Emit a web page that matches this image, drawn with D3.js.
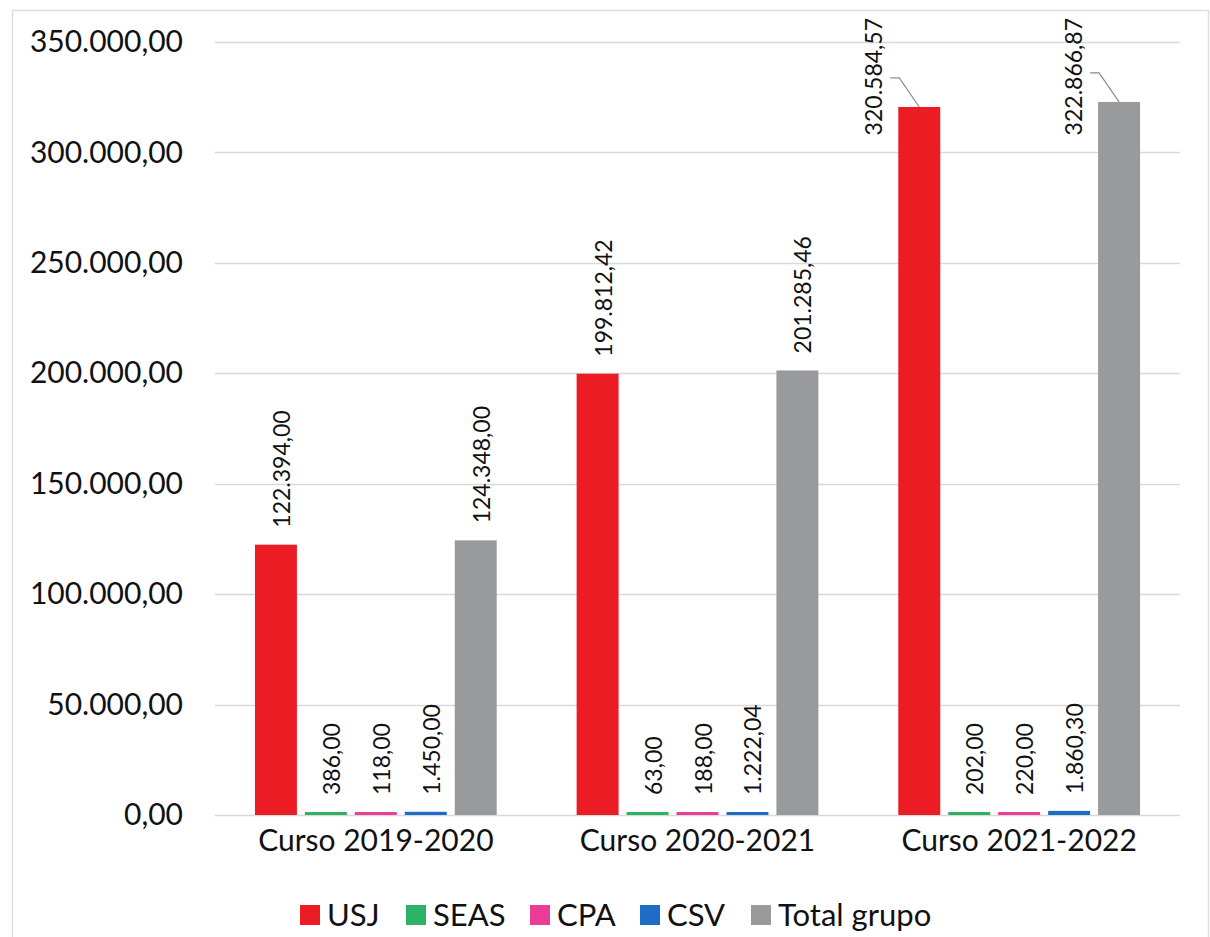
<!DOCTYPE html>
<html><head><meta charset="utf-8">
<script src="https://cdn.jsdelivr.net/npm/d3@7"></script>
<style>
html,body{margin:0;padding:0;background:#fff;}
svg{display:block;font-family:Lato,"Open Sans",sans-serif;}
</style></head>
<body>
<svg id="chart" width="1210" height="937"></svg>
<script>
const categories = ["Curso 2019-2020", "Curso 2020-2021", "Curso 2021-2022"];
const seriesNames = ["USJ", "SEAS", "CPA", "CSV", "Total grupo"];
const seriesColors = ["#ec1c24", "#2db265", "#ec3d96", "#1f6cc6", "#999a9c"];
const USJ = [122394.00, 199812.42, 320584.57];
const SEAS = [386.00, 63.00, 202.00];
const CPA = [118.00, 188.00, 220.00];
const CSV = [1450.00, 1222.04, 1860.30];
const TotalGrupo = [124348.00, 201285.46, 322866.87];
const yTicks = [0, 50000, 100000, 150000, 200000, 250000, 300000, 350000];

const seriesValues = [USJ, SEAS, CPA, CSV, TotalGrupo];
const fmt = v => {
  const s = v.toFixed(2).split(".");
  return s[0].replace(/\B(?=(\d{3})+(?!\d))/g, ".") + "," + s[1];
};

const svg = d3.select("#chart");
const W = 1210, H = 937;
const m = {left: 215, right: 30, top: 42, bottom: 122};
const plotW = W - m.left - m.right, plotH = H - m.top - m.bottom;

svg.append("rect").attr("x", 12.5).attr("y", 10.5).attr("width", 1196).attr("height", 940)
  .attr("fill", "none").attr("stroke", "#dedede").attr("stroke-width", 1.5);

const x0 = d3.scaleBand().domain(categories).range([m.left, m.left + plotW]).paddingInner(0).paddingOuter(0);
const x1 = d3.scaleBand().domain(seriesNames).range([0, x0.bandwidth()]).paddingInner(0.16).paddingOuter(0.8);
const y = d3.scaleLinear().domain([0, 350000]).range([m.top + plotH, m.top]);

// gridlines
svg.append("g").selectAll("line").data(yTicks).join("line")
  .attr("x1", m.left).attr("x2", m.left + plotW)
  .attr("y1", d => Math.round(y(d)) + 0.5).attr("y2", d => Math.round(y(d)) + 0.5)
  .attr("stroke", "#d9d9d9").attr("stroke-width", 1.5);

// y axis labels
const yAxis = d3.axisLeft(y).tickValues(yTicks).tickFormat(fmt).tickSize(0).tickPadding(0);
const ya = svg.append("g").attr("transform", `translate(${183},0)`).call(yAxis);
ya.select(".domain").remove();
ya.selectAll("text").attr("font-size", 30).attr("fill", "#111").attr("font-family", "Lato");

// x axis labels
const xAxis = d3.axisBottom(x0).tickSize(0).tickPadding(0);
const xa = svg.append("g").attr("transform", `translate(0,${y(0) + 15})`).call(xAxis);
xa.select(".domain").remove();
xa.selectAll("text").attr("font-size", 30).attr("fill", "#111").attr("font-family", "Lato").attr("dy", "0.71em");

// data
const data = [];
categories.forEach((c, ci) => seriesNames.forEach((s, si) => data.push({c, s, si, v: seriesValues[si][ci]})));

const barMinH = 3;
svg.append("g").selectAll("rect").data(data).join("rect")
  .attr("x", d => x0(d.c) + x1(d.s))
  .attr("width", x1.bandwidth())
  .attr("y", d => Math.min(y(d.v), y(0) - barMinH))
  .attr("height", d => Math.max(y(0) - y(d.v), barMinH))
  .attr("fill", d => seriesColors[d.si]);

// labels
const lblG = svg.append("g");
const topLimit = 18;
data.forEach(d => {
  const cx = x0(d.c) + x1(d.s) + x1.bandwidth() / 2;
  const barTop = Math.min(y(d.v), y(0) - barMinH);
  const t = lblG.append("text").text(fmt(d.v))
    .attr("font-size", 23).attr("fill", "#111").attr("font-family", "Lato")
    .attr("dominant-baseline", "central");
  const len = t.node().getComputedTextLength();
  let sx = cx + 5, sy = barTop - 17;
  if (sy - len < topLimit) {
    sy = topLimit + len;
    sx = cx - 46;
    const lx = sx + 17, ly = barTop - 29;
    lblG.append("polyline")
      .attr("points", `${lx},${ly} ${lx + 9},${ly} ${cx},${barTop}`)
      .attr("fill", "none").attr("stroke", "#8c8c8c").attr("stroke-width", 1.2);
  }
  t.attr("transform", `translate(${sx},${sy}) rotate(-90)`);
});

// legend
const legendX = [300, 406, 530, 640, 751];
const lg = svg.append("g");
seriesNames.forEach((s, i) => {
  lg.append("rect").attr("x", legendX[i]).attr("y", 905).attr("width", 20).attr("height", 20).attr("fill", seriesColors[i]);
  lg.append("text").attr("x", legendX[i] + 27).attr("y", 914).attr("dominant-baseline", "central")
    .attr("font-size", 31).attr("fill", "#111").attr("font-family", "Lato").text(s);
});
</script>
</body></html>
